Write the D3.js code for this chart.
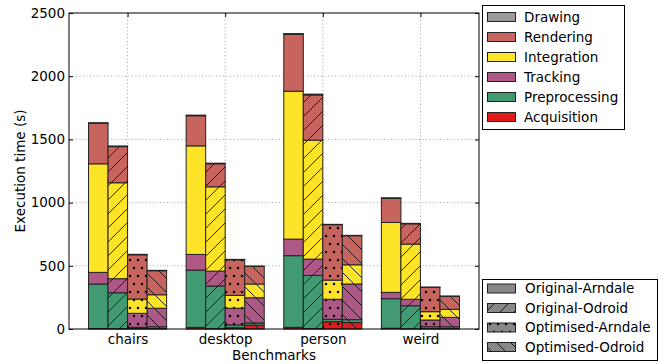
<!DOCTYPE html>
<html><head><meta charset="utf-8">
<script src="https://cdn.jsdelivr.net/npm/d3@7"></script>
<style>
body{margin:0;background:#fff}
svg{display:block}
text{font-family:"DejaVu Sans",sans-serif;font-size:13.5px;fill:#000}
</style>
</head><body>
<svg id="chart" width="667" height="364"></svg>
<script>
const benchmarks = ["chairs", "desktop", "person", "weird"];
const configs = ["Original-Arndale", "Original-Odroid", "Optimised-Arndale", "Optimised-Odroid"];
const stages = ["Acquisition", "Preprocessing", "Tracking", "Integration", "Rendering", "Drawing"];

// seconds spent per stage: one row per benchmark, one column per configuration
const acquisition   = [[4, 2, 3, 3], [13, 2, 10, 30], [13, 3, 58, 51], [6, 2, 3, 3]];
const preprocessing = [[352, 285, 10, 15], [453, 338, 22, 18], [567, 421, 19, 23], [234, 182, 15, 15]];
const tracking      = [[92, 111, 111, 146], [124, 118, 132, 199], [131, 129, 158, 282], [50, 51, 53, 74]];
const integration   = [[859, 759, 113, 107], [859, 667, 102, 109], [1170, 941, 152, 152], [553, 437, 66, 64]];
const rendering     = [[320, 286, 350, 190], [238, 182, 282, 139], [450, 358, 438, 230], [190, 160, 192, 102]];
const drawing       = [[5, 5, 4, 3], [5, 5, 3, 3], [6, 6, 3, 3], [5, 4, 3, 3]];
const yTicks = [0, 500, 1000, 1500, 2000, 2500];

const stageValues = {
  Acquisition: acquisition, Preprocessing: preprocessing, Tracking: tracking,
  Integration: integration, Rendering: rendering, Drawing: drawing
};
const stageColor = {
  Drawing: "#9a9a9a", Rendering: "#c8645e", Integration: "#fde428",
  Tracking: "#ad5886", Preprocessing: "#419a72", Acquisition: "#e31b1b"
};
const configHatch = [null, "hatch-fwd", "hatch-dots", "hatch-back"];

const svg = d3.select("#chart");
const M = {left: 69, right: 479, top: 13, bottom: 329};
const x = d3.scaleLinear().domain([-0.6, 3.6]).range([M.left, M.right]);
const y = d3.scaleLinear().domain([0, 2500]).range([M.bottom, M.top]);
const barW = 0.2;

// hatch patterns
const defs = svg.append("defs");
const P = 14;
defs.append("pattern").attr("id", "hatch-fwd").attr("patternUnits", "userSpaceOnUse")
  .attr("width", P).attr("height", P)
  .append("path").attr("d", `M0,${P}L${P},0M${-P/4},${P/4}L${P/4},${-P/4}M${P*3/4},${P*5/4}L${P*5/4},${P*3/4}`)
  .attr("stroke", "#111").attr("stroke-width", 0.9).attr("fill", "none");
defs.append("pattern").attr("id", "hatch-back").attr("patternUnits", "userSpaceOnUse")
  .attr("width", P).attr("height", P)
  .append("path").attr("d", `M0,0L${P},${P}M${-P/4},${P*3/4}L${P/4},${P*5/4}M${P*3/4},${-P/4}L${P*5/4},${P/4}`)
  .attr("stroke", "#111").attr("stroke-width", 0.9).attr("fill", "none");
const dots = defs.append("pattern").attr("id", "hatch-dots").attr("patternUnits", "userSpaceOnUse")
  .attr("width", 8).attr("height", 16);
[[2, 4], [6, 12]].forEach(([cx, cy]) =>
  dots.append("circle").attr("cx", cx).attr("cy", cy).attr("r", 1.25).attr("fill", "#000"));

// grid
const grid = svg.append("g");
yTicks.filter(t => t > 0 && t < 2500).forEach(t =>
  grid.append("line").attr("x1", M.left).attr("x2", M.right).attr("y1", y(t)).attr("y2", y(t))
    .attr("stroke", "#8a8a8a").attr("stroke-width", 0.8).attr("stroke-dasharray", "1,2.5"));
benchmarks.forEach((b, i) =>
  grid.append("line").attr("x1", x(i)).attr("x2", x(i)).attr("y1", M.top).attr("y2", M.bottom)
    .attr("stroke", "#8a8a8a").attr("stroke-width", 0.8).attr("stroke-dasharray", "1,2.5"));

// bars
const rows = [];
benchmarks.forEach((b, i) => configs.forEach((c, j) => {
  const r = {bi: i, ci: j};
  stages.forEach(s => r[s] = stageValues[s][i][j]);
  rows.push(r);
}));
const series = d3.stack().keys(stages)(rows);
const bars = svg.append("g");
series.forEach(s => {
  s.forEach(d => {
    const r = d.data;
    const x0 = x(r.bi - 0.4 + barW * r.ci), x1 = x(r.bi - 0.4 + barW * (r.ci + 1));
    const y0 = y(d[0]), y1 = y(d[1]);
    const g = bars.append("g");
    g.append("rect").attr("x", x0).attr("y", y1).attr("width", x1 - x0).attr("height", y0 - y1)
      .attr("fill", stageColor[s.key]);
    if (configHatch[r.ci]) {
      g.append("rect").attr("x", x0).attr("y", y1).attr("width", x1 - x0).attr("height", y0 - y1)
        .attr("fill", `url(#${configHatch[r.ci]})`);
    }
    g.append("rect").attr("x", x0).attr("y", y1).attr("width", x1 - x0).attr("height", y0 - y1)
      .attr("fill", "none").attr("stroke", "#222").attr("stroke-width", 1);
  });
});

// frame and ticks
svg.append("rect").attr("x", M.left).attr("y", M.top).attr("width", M.right - M.left)
  .attr("height", M.bottom - M.top).attr("fill", "none").attr("stroke", "#000").attr("stroke-width", 1);
const yAxisL = d3.axisLeft(y).tickValues(yTicks).tickSize(-4).tickPadding(4).tickFormat(d3.format("d"));
const gy = svg.append("g").attr("transform", `translate(${M.left},0)`).call(yAxisL);
gy.select(".domain").remove();
const yAxisR = d3.axisRight(y).tickValues(yTicks).tickSize(-4).tickFormat("");
svg.append("g").attr("transform", `translate(${M.right},0)`).call(yAxisR).select(".domain").remove();
const xAxisB = d3.axisBottom(x).tickValues(d3.range(benchmarks.length)).tickSize(-4).tickPadding(5)
  .tickFormat(i => benchmarks[i]);
const gx = svg.append("g").attr("transform", `translate(0,${M.bottom})`).call(xAxisB);
gx.select(".domain").remove();
const xAxisT = d3.axisTop(x).tickValues(d3.range(benchmarks.length)).tickSize(-4).tickFormat("");
svg.append("g").attr("transform", `translate(0,${M.top})`).call(xAxisT).select(".domain").remove();

// axis titles
svg.append("text").attr("x", (M.left + M.right) / 2).attr("y", 359.5).attr("text-anchor", "middle")
  .text("Benchmarks");
svg.append("text").attr("transform", `translate(25,${(M.top + M.bottom) / 2}) rotate(-90)`)
  .attr("text-anchor", "middle").text("Execution time (s)");

// stage legend
const lg1 = svg.append("g");
lg1.append("rect").attr("x", 482.5).attr("y", 5.5).attr("width", 142).attr("height", 124)
  .attr("fill", "#fff").attr("stroke", "#000").attr("stroke-width", 1);
stages.slice().reverse().forEach((s, k) => {
  const cy = 17 + 20 * k;
  lg1.append("rect").attr("x", 487.5).attr("y", cy - 4.5).attr("width", 28).attr("height", 9)
    .attr("fill", stageColor[s]).attr("stroke", "#222").attr("stroke-width", 1);
  lg1.append("text").attr("x", 524).attr("y", cy).attr("dy", "0.35em").text(s);
});

// configuration legend
const lg2 = svg.append("g");
lg2.append("rect").attr("x", 482.5).attr("y", 279.5).attr("width", 175).attr("height", 81)
  .attr("fill", "#fff").attr("stroke", "#000").attr("stroke-width", 1);
configs.forEach((c, k) => {
  const cy = 288.5 + 19.5 * k;
  lg2.append("rect").attr("x", 487.5).attr("y", cy - 4.5).attr("width", 28).attr("height", 9)
    .attr("fill", "#888");
  if (configHatch[k]) {
    lg2.append("rect").attr("x", 487.5).attr("y", cy - 4.5).attr("width", 28).attr("height", 9)
      .attr("fill", `url(#${configHatch[k]})`);
  }
  lg2.append("rect").attr("x", 487.5).attr("y", cy - 4.5).attr("width", 28).attr("height", 9)
    .attr("fill", "none").attr("stroke", "#222").attr("stroke-width", 1);
  lg2.append("text").attr("x", 525).attr("y", cy).attr("dy", "0.35em").text(c);
});
</script>
</body></html>
